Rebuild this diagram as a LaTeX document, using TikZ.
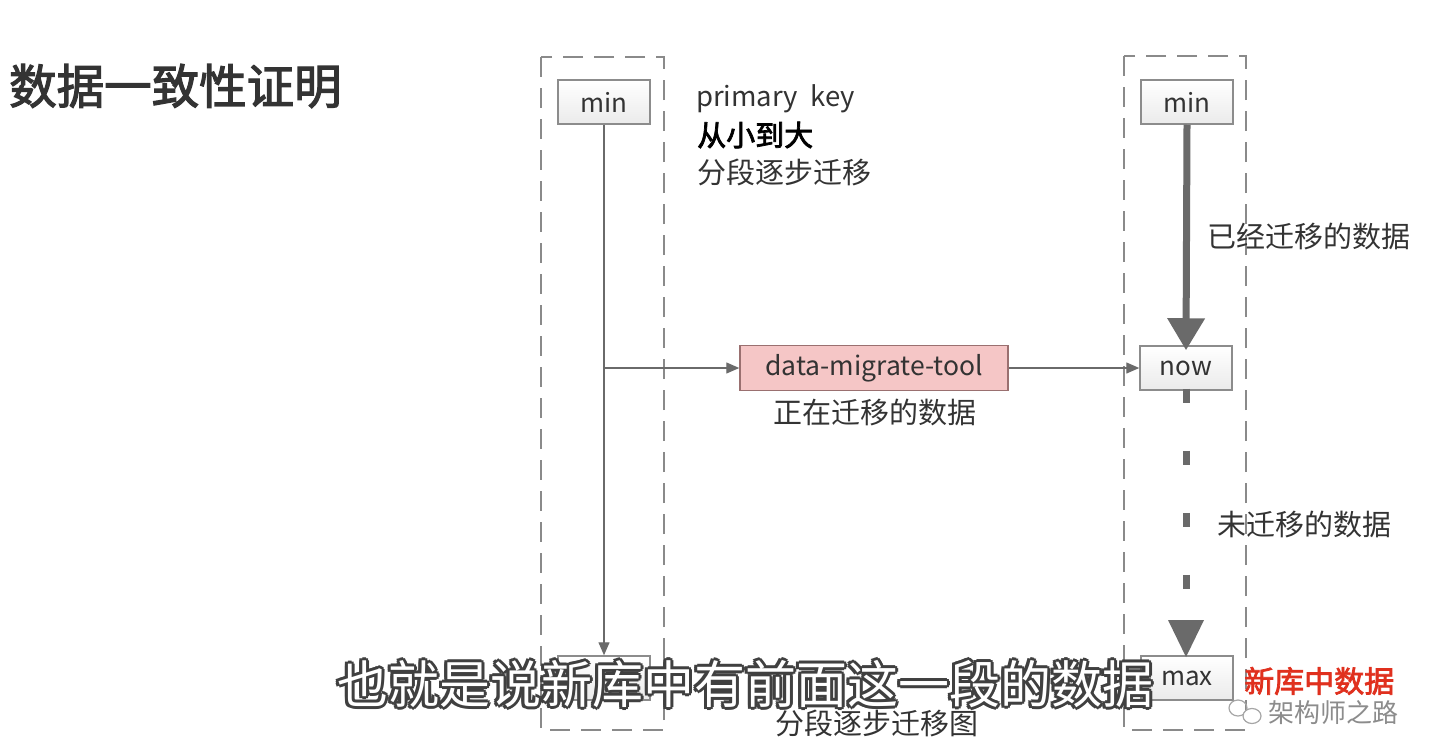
\documentclass[tikz,border=0pt]{standalone}
\usepackage{fontspec}
\setmainfont{Noto Sans CJK SC}
\newfontfamily\cjkb[FakeBold=2.5]{Noto Sans CJK SC}
\usetikzlibrary{arrows.meta,calc}
\definecolor{linegray}{HTML}{6A6A6A}
\definecolor{boxgray}{HTML}{8C8C8C}
\definecolor{dashgray}{HTML}{8A8A8A}
\definecolor{pinkfill}{HTML}{F5C6C6}
\definecolor{pinkdraw}{HTML}{9A7070}
\definecolor{txt}{HTML}{333333}
\definecolor{redtxt}{HTML}{E0301E}
\tikzset{
  region/.style={draw=dashgray, line width=2pt, dash pattern=on 20pt off 11pt},
  keybox/.style={draw=boxgray, line width=1.5pt, top color=white, bottom color=black!8,
    minimum width=92pt, minimum height=44pt, inner sep=0pt, font=\fontsize{26}{28}\selectfont, text=txt},
  toolbox/.style={draw=pinkdraw, line width=1.5pt, fill=pinkfill,
    minimum width=268pt, minimum height=45pt, inner sep=0pt, font=\fontsize{26.5}{28}\selectfont, text=txt},
  thin/.style={draw=linegray, line width=1.3pt, -{Triangle[length=13pt,width=11pt]}},
  label/.style={font=\fontsize{29}{31}\selectfont, text=txt, inner sep=0pt},
  subt/.style={font=\fontsize{51}{53}\selectfont, inner sep=0pt},
}
\begin{document}
\begin{tikzpicture}[x=1pt,y=-1pt]
\useasboundingbox (0,0) rectangle (1442,752);
\fill[white] (0,0) rectangle (1442,752);

% title
\node[font=\cjkb\fontsize{47.5}{50}\selectfont, text=txt, inner sep=0pt, anchor=west] (title) at (9,86) {数据一致性证明};

% dashed regions
\draw[region] (541,57) rectangle (664,730);
\draw[region] (1124,56) rectangle (1246,730);

% left column
\node[keybox] (lmin) at (604,102) {min};
\node[keybox] (lmax) at (604,678) {};
\coordinate (branch) at (604,368);

% right column
\node[keybox] (rmin) at (1187,102) {min};
\node[keybox] (rnow) at (1186,368) {now};
\node[keybox] (rmax) at (1187,678) {max};

% tool
\node[toolbox] (tool) at (874,368) {data-migrate-tool};
\node[label] (toollab) at (875,412) {正在迁移的数据};

% connectors
\draw[thin] (lmin.south) -- (lmax.north);
\draw[thin] (branch) -- (tool.west);
\draw[thin] (tool.east) -- (rnow.west);

\draw[draw=linegray, line width=7pt, -{Triangle[length=32pt,width=36pt]}]
  (rmin.south) -- ([yshift=-5pt]rnow.north);
\draw[draw=linegray, line width=7pt, dash pattern=on 14pt off 48pt]
  ([yshift=2pt]rnow.south) -- (1186,620);
\fill[linegray] (1168,620) -- (1204,620) -- (1186,657) -- cycle;

% texts
\node[font=\fontsize{27.5}{29}\selectfont, text=txt, anchor=west, inner sep=0pt] (pk) at (696,99) {primary\ \ key};
\node[font=\cjkb\fontsize{29}{31}\selectfont, text=black, anchor=west, inner sep=0pt] (small) at (697,135) {从小到大};
\node[label, anchor=west] (seg) at (697,172) {分段逐步迁移};
\node[label, anchor=west] (done) at (1207,236) {已经迁移的数据};
\node[label, anchor=west] (todo) at (1217,524) {未迁移的数据};
\node[font=\cjkb\fontsize{30}{32}\selectfont, text=redtxt, anchor=west, inner sep=0pt] (newdb) at (1244,681) {新库中数据};
\node[label] (caption) at (877,723) {分段逐步迁移图};

% watermark
\draw[black!35, line width=1.2pt] (1238,708) ellipse (9pt and 8pt);
\draw[black!35, line width=1.2pt, fill=white] (1252,716) ellipse (9pt and 7.5pt);
\node[font=\fontsize{26}{28}\selectfont, text=black!45, anchor=west, inner sep=0pt] (wm) at (1268,713) {架构师之路};

% subtitle overlay (white text with dark outline)
\foreach \a [count=\i] in {0,45,...,359}
  \node[subt, text=black!75] (subo\i) at ($(745,684)+(\a:3pt)$) {也就是说新库中有前面这一段的数据};
\node[subt, text=white] (sub) at (745,684) {也就是说新库中有前面这一段的数据};
\end{tikzpicture}
\end{document}
